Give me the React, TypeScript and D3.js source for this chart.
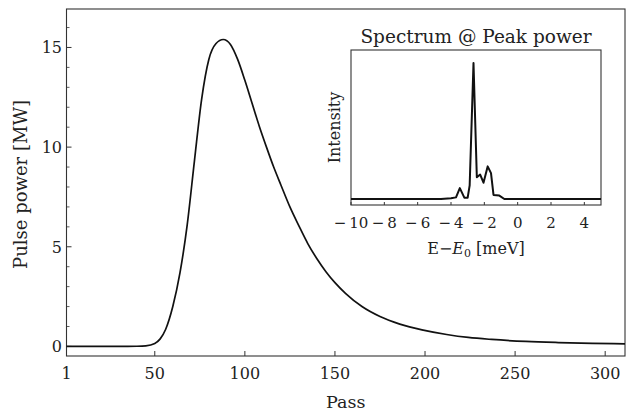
import React from "react";
import * as d3 from "d3";

const passes = [1, 30, 40, 45, 50, 53, 56, 60, 64, 68, 72, 76, 80, 84, 88, 92, 96, 100, 104, 108, 112, 116, 120, 125, 130, 135, 140, 145, 150, 156, 165, 175, 186, 199, 212, 224, 237, 256, 274, 293, 311];
const power = [0, 0, 0.01, 0.03, 0.15, 0.38, 0.85, 2.0, 3.7, 6.1, 9.3, 12.4, 14.4, 15.2, 15.4, 15.15, 14.4, 13.35, 12.2, 11.05, 10.0, 9.0, 8.1, 7.0, 6.05, 5.15, 4.4, 3.75, 3.2, 2.65, 2.0, 1.5, 1.12, 0.82, 0.6, 0.45, 0.35, 0.25, 0.195, 0.155, 0.13];
const xTicks = [1, 50, 100, 150, 200, 250, 300];
const yMajor = [0, 5, 10, 15];
const yMinor = [1, 2, 3, 4, 6, 7, 8, 9, 11, 12, 13, 14, 16];

const energy = [-10, -4.6, -4.0, -3.7, -3.47, -3.2, -3.0, -2.88, -2.65, -2.45, -2.25, -2.05, -1.8, -1.6, -1.45, -1.1, -0.8, 5];
const intensity = [0, 0, 0.005, 0.012, 0.08, 0.01, 0.01, 0.1, 1.0, 0.16, 0.18, 0.12, 0.24, 0.19, 0.03, 0.025, 0, 0];
const eTicks = [-10, -8, -6, -4, -2, 0, 2, 4];

const FONT = "'DejaVu Serif', serif";

export default function App() {
  const L = 66.5, R = 625, T = 9, B = 356;
  const x = d3.scaleLinear().domain([1, 311]).range([L, R]);
  const y = d3.scaleLinear().domain([-0.48, 16.93]).range([B, T]);
  const line = d3
    .line<number>()
    .x((_, i) => x(passes[i]))
    .y((d) => y(d))
    .curve(d3.curveMonotoneX);

  const iL = 351, iR = 601, iT = 50, iB = 205;
  const ix = d3.scaleLinear().domain([-10, 5]).range([iL, iR]);
  const iy = d3.scaleLinear().domain([-0.044, 1.096]).range([iB, iT]);
  const iline = d3
    .line<number>()
    .x((_, i) => ix(energy[i]))
    .y((d) => iy(d));

  const fmtE = (v: number) => (v < 0 ? "\u2212\u2009" + Math.abs(v) : String(v));

  return (
    <svg width={629} height={414} style={{ position: "absolute", left: 0, top: 0 }} fontFamily={FONT}>
      <rect width={629} height={414} fill="#fff" />
      {/* main frame */}
      <rect x={L} y={T} width={R - L} height={B - T} fill="none" stroke="#333" strokeWidth={1.1} />
      {yMajor.map((v) => (
        <g key={"ym" + v}>
          <line x1={L} x2={L + 5} y1={y(v)} y2={y(v)} stroke="#333" strokeWidth={1} />
          <text x={62} y={y(v)} dy="0.36em" textAnchor="end" fontSize={16} fill="#222">
            {v}
          </text>
        </g>
      ))}
      {yMinor.map((v) => (
        <line key={"yn" + v} x1={L} x2={L + 3} y1={y(v)} y2={y(v)} stroke="#333" strokeWidth={0.8} />
      ))}
      {xTicks.map((v) => (
        <g key={"x" + v}>
          <line x1={x(v)} x2={x(v)} y1={B} y2={B - 5} stroke="#333" strokeWidth={1} />
          <text x={x(v)} y={379} textAnchor="middle" fontSize={16} fill="#222">
            {v}
          </text>
        </g>
      ))}
      <text x={(L + R) / 2} y={408} textAnchor="middle" fontSize={17.5} fill="#222">
        Pass
      </text>
      <text
        transform={`translate(27,${(T + B) / 2 + 2}) rotate(-90)`}
        textAnchor="middle"
        fontSize={18}
        fill="#222"
      >
        Pulse power [MW]
      </text>
      <path d={line(power) ?? ""} fill="none" stroke="#111" strokeWidth={1.7} />

      {/* inset */}
      <text x={(iL + iR) / 2} y={43} textAnchor="middle" fontSize={18.5} fill="#222">
        Spectrum @ Peak power
      </text>
      <rect x={iL} y={iT} width={iR - iL} height={iB - iT} fill="#fff" stroke="#333" strokeWidth={1.1} />
      {eTicks.map((v) => (
        <g key={"e" + v}>
          <line x1={ix(v)} x2={ix(v)} y1={iB} y2={iB - 3} stroke="#333" strokeWidth={1} />
          <text x={ix(v)} y={228} textAnchor="middle" fontSize={15} fill="#222">
            {fmtE(v)}
          </text>
        </g>
      ))}
      <path d={iline(intensity) ?? ""} fill="none" stroke="#111" strokeWidth={2} strokeLinejoin="round" />
      <text x={(iL + iR) / 2} y={254} textAnchor="middle" fontSize={16} fill="#222">
        E{"\u2212"}
        <tspan fontStyle="italic">E</tspan>
        <tspan fontSize={11} dy={3}>0</tspan>
        <tspan dy={-3}> [meV]</tspan>
      </text>
      <text
        transform={`translate(340,${(iT + iB) / 2}) rotate(-90)`}
        textAnchor="middle"
        fontSize={16}
        fill="#222"
      >
        Intensity
      </text>
    </svg>
  );
}
